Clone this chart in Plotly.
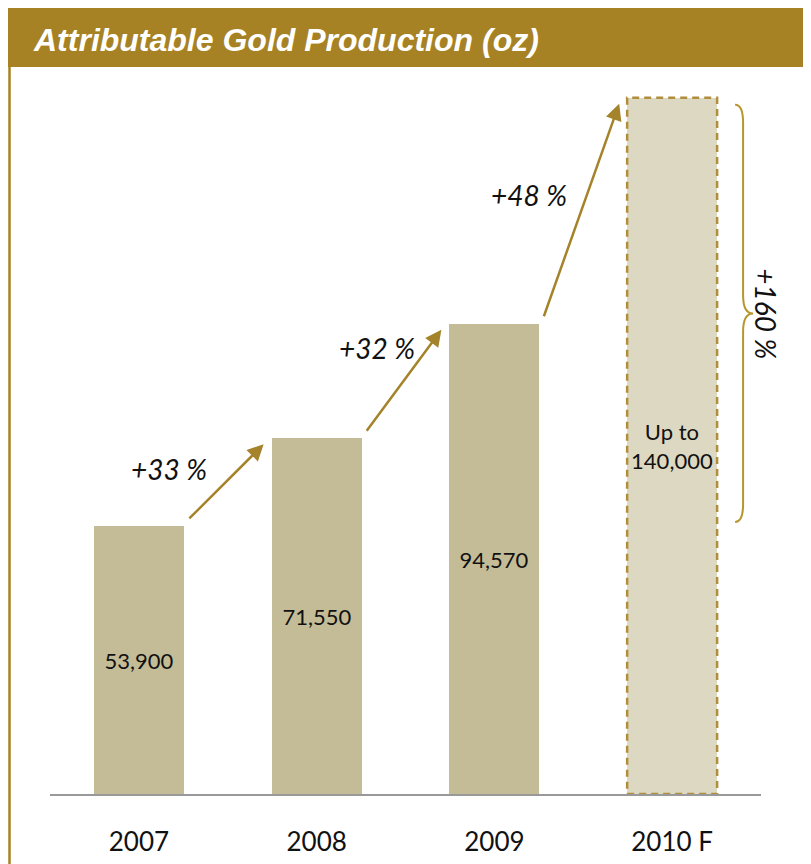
import plotly.graph_objects as go

# ---- data ----
categories = ["2007", "2008", "2009", "2010 F"]
production_oz = [53900, 71550, 94570, 140000]
value_labels = ["53,900", "71,550", "94,570", "Up to<br>140,000"]
growth_labels = ["+33 %", "+32 %", "+48 %"]
total_growth_label = "+160 %"
title_text = "Attributable Gold Production (oz)"

# ---- style / layout constants ----
PAGE_OFF = 8  # default body margin of the html page
W, H = 811 - PAGE_OFF, 864 - PAGE_OFF
ML, MR, MT = 42, 50, 62
PLOT_BOTTOM_PAGE = 794
MB = H - (PLOT_BOTTOM_PAGE - PAGE_OFF)
YMAX = 145600
XMIN, XMAX = -0.5, 3.5
GOLD = "#A68224"
ARROW = "#A4832A"
BAR = "#C4BC97"
BAR_FC = "#DDD8C2"
DASH = "#B08E3C"
BRACE = "#B8962E"
BAR_W = 0.506
FONT = "Lato, Noto Sans, sans-serif"

plot_w = W - ML - MR
plot_h = H - MT - MB


def px2paper_x(page_px):
    return (page_px - PAGE_OFF - ML) / plot_w


def px2paper_y(page_py):
    return (H - MB - (page_py - PAGE_OFF)) / plot_h


def dy(px):  # pixel distance -> data units (y)
    return px * YMAX / plot_h


def dx(px):  # pixel distance -> data units (x)
    return px * (XMAX - XMIN) / plot_w


xs = list(range(len(categories)))
fig = go.Figure()
fig.add_trace(go.Bar(
    x=xs, y=production_oz, width=BAR_W,
    marker=dict(color=[BAR, BAR, BAR, BAR_FC], line=dict(width=0)),
    text=value_labels, textposition="inside", insidetextanchor="middle",
    textangle=0,
    textfont=dict(family=FONT, size=22, color="#111111"),
    hoverinfo="skip", showlegend=False,
))

shapes = []
# dashed outline for the forecast bar
shapes.append(dict(type="rect", xref="x", yref="y",
                   x0=xs[3] - BAR_W / 2, x1=xs[3] + BAR_W / 2,
                   y0=0, y1=production_oz[3],
                   line=dict(color=DASH, width=2.5, dash="7px,5px"),
                   fillcolor="rgba(0,0,0,0)", layer="above"))

# header band
shapes.append(dict(type="rect", xref="paper", yref="paper",
                   x0=px2paper_x(7), x1=px2paper_x(820),
                   y0=px2paper_y(67), y1=px2paper_y(7),
                   fillcolor=GOLD, line=dict(width=0), layer="above"))
# left border line
shapes.append(dict(type="line", xref="paper", yref="paper",
                   x0=px2paper_x(9.5), x1=px2paper_x(9.5),
                   y0=px2paper_y(7), y1=px2paper_y(880),
                   line=dict(color=GOLD, width=2.5)))

# curly brace spanning 2007 -> 2010 values
top = production_oz[3] - dy(7)
bot = production_oz[0] + dy(4)
mid = (top + bot) / 2
xv = xs[3] + BAR_W / 2 + dx(26)
xh = xv - dx(8)
xt = xv + dx(10)
c = dy(18)
path = (f"M {xh},{top} Q {xv},{top} {xv},{top - c} L {xv},{mid + c} "
        f"Q {xv},{mid} {xt},{mid} Q {xv},{mid} {xv},{mid - c} "
        f"L {xv},{bot + c} Q {xv},{bot} {xh},{bot}")
shapes.append(dict(type="path", xref="x", yref="y", path=path,
                   line=dict(color=BRACE, width=2)))

annotations = []
# title
annotations.append(dict(
    xref="paper", yref="paper", x=px2paper_x(31), y=px2paper_y(40),
    xanchor="left", yanchor="middle", showarrow=False,
    text=f"<b><i>{title_text}</i></b>",
    font=dict(family="Liberation Sans, Arial, sans-serif", size=32, color="white"),
))

# growth arrows + labels
label_shift = [(-57, 13), (-27, 33), (-52, 16)]
for i in range(3):
    x0 = xs[i] + BAR_W / 2 + dx(4)
    y0 = production_oz[i] + dy(6)
    x1 = xs[i + 1] - BAR_W / 2 - dx(8)
    y1 = production_oz[i + 1] - dy(6)
    annotations.append(dict(
        x=x1, y=y1, ax=x0, ay=y0, xref="x", yref="y", axref="x", ayref="y",
        text="", showarrow=True, arrowhead=2, arrowsize=1.3, arrowwidth=2.5,
        arrowcolor=ARROW, standoff=0, startstandoff=0,
    ))
    sx, sy = label_shift[i]
    annotations.append(dict(
        x=(x0 + x1) / 2, y=(y0 + y1) / 2, xref="x", yref="y",
        xshift=sx, yshift=sy, showarrow=False,
        text=f"<i>{growth_labels[i]}</i>",
        font=dict(family=FONT, size=28, color="#111111"),
    ))

# total growth label (rotated)
annotations.append(dict(
    x=xt, y=mid, xref="x", yref="y", xshift=12, showarrow=False,
    xanchor="center", textangle=90,
    text=f"<i>{total_growth_label}</i>",
    font=dict(family=FONT, size=28, color="#111111"),
))

fig.update_layout(
    width=W, height=H, autosize=False,
    margin=dict(l=ML, r=MR, t=MT, b=MB, pad=0, autoexpand=False),
    paper_bgcolor="white", plot_bgcolor="white",
    shapes=shapes, annotations=annotations,
    bargap=0,
    xaxis=dict(range=[XMIN, XMAX], tickmode="array", tickvals=xs, ticktext=categories,
               showgrid=False, zeroline=False, showline=True,
               linecolor="#999999", linewidth=2, ticks="",
               ticklabelstandoff=24, automargin=False,
               tickfont=dict(family=FONT, size=26, color="#111111"),
               fixedrange=True),
    yaxis=dict(range=[0, YMAX], showgrid=False, zeroline=False, showline=False,
               showticklabels=False, ticks="", automargin=False, fixedrange=True),
)

fig.write_html("out.html")
